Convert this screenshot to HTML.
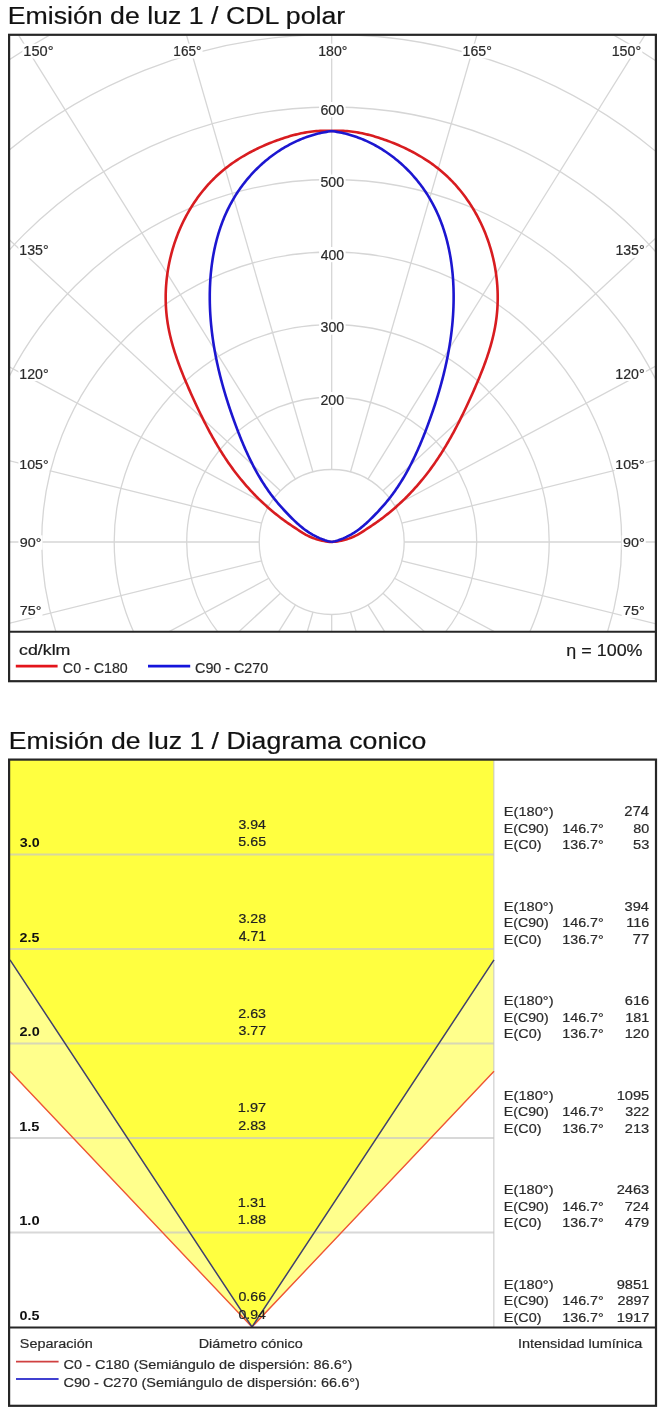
<!DOCTYPE html>
<html><head><meta charset="utf-8"><style>
html,body{margin:0;padding:0;background:#fff;}
svg{display:block;will-change:transform;}
text{font-family:"Liberation Sans",sans-serif;}
</style></head><body>
<svg width="669" height="1422" viewBox="0 0 669 1422">
<clipPath id="pc"><rect x="10" y="35.5" width="645" height="595.5"/></clipPath>
<g clip-path="url(#pc)" fill="none" stroke="#d6d6d6" stroke-width="1.3"><circle cx="331.70" cy="542.00" r="72.50"/><circle cx="331.70" cy="542.00" r="145.00"/><circle cx="331.70" cy="542.00" r="217.50"/><circle cx="331.70" cy="542.00" r="290.00"/><circle cx="331.70" cy="542.00" r="362.50"/><circle cx="331.70" cy="542.00" r="435.00"/><circle cx="331.70" cy="542.00" r="507.50"/><circle cx="331.70" cy="542.00" r="580.00"/><circle cx="331.70" cy="542.00" r="652.50"/><line x1="404.20" y1="542.00" x2="1700.20" y2="542.00"/><line x1="401.73" y1="560.76" x2="1653.57" y2="871.35"/><line x1="394.49" y1="578.25" x2="1516.86" y2="1178.25"/><line x1="382.97" y1="593.27" x2="1299.38" y2="1441.79"/><line x1="367.95" y1="604.79" x2="1015.95" y2="1644.02"/><line x1="350.46" y1="612.03" x2="685.89" y2="1771.14"/><line x1="331.70" y1="614.50" x2="331.70" y2="1814.50"/><line x1="312.94" y1="612.03" x2="-22.49" y2="1771.14"/><line x1="295.45" y1="604.79" x2="-352.55" y2="1644.02"/><line x1="280.43" y1="593.27" x2="-635.98" y2="1441.79"/><line x1="268.91" y1="578.25" x2="-853.46" y2="1178.25"/><line x1="261.67" y1="560.76" x2="-990.17" y2="871.35"/><line x1="259.20" y1="542.00" x2="-1036.80" y2="542.00"/><line x1="261.67" y1="523.24" x2="-990.17" y2="212.65"/><line x1="268.91" y1="505.75" x2="-853.46" y2="-94.25"/><line x1="280.43" y1="490.73" x2="-635.98" y2="-357.79"/><line x1="295.45" y1="479.21" x2="-352.55" y2="-560.02"/><line x1="312.94" y1="471.97" x2="-22.49" y2="-687.14"/><line x1="331.70" y1="469.50" x2="331.70" y2="-730.50"/><line x1="350.46" y1="471.97" x2="685.89" y2="-687.14"/><line x1="367.95" y1="479.21" x2="1015.95" y2="-560.02"/><line x1="382.97" y1="490.73" x2="1299.38" y2="-357.79"/><line x1="394.49" y1="505.75" x2="1516.86" y2="-94.25"/><line x1="401.73" y1="523.24" x2="1653.57" y2="212.65"/></g>
<g fill="#fff"><rect x="22.4" y="43.7" width="32.2" height="14.8"/><rect x="172.4" y="43.7" width="30.2" height="14.8"/><rect x="317.4" y="43.7" width="31.2" height="14.8"/><rect x="461.7" y="43.7" width="31.3" height="14.8"/><rect x="610.8" y="43.7" width="31.5" height="14.8"/><rect x="18.4" y="242.4" width="31.3" height="15.4"/><rect x="614.5" y="242.4" width="31.3" height="15.4"/><rect x="18.4" y="366.4" width="31.3" height="14.6"/><rect x="614.5" y="366.4" width="31.3" height="14.6"/><rect x="18.4" y="456.8" width="31.3" height="14.5"/><rect x="614.5" y="456.8" width="31.3" height="14.5"/><rect x="18.4" y="535.3" width="24.1" height="14.5"/><rect x="621.7" y="535.3" width="24.1" height="14.5"/><rect x="18.4" y="603.5" width="24.1" height="14.3"/><rect x="621.7" y="603.5" width="24.1" height="14.3"/><rect x="319.1" y="102.0" width="26.5" height="15.2"/><rect x="319.1" y="174.5" width="26.5" height="15.2"/><rect x="319.1" y="247.0" width="26.5" height="15.2"/><rect x="319.1" y="319.5" width="26.5" height="15.2"/><rect x="319.1" y="392.0" width="26.5" height="15.2"/></g>
<path d="M331.70 542.00 L329.75 541.83 L327.81 541.62 L325.89 541.35 L323.98 541.03 L322.08 540.66 L320.21 540.23 L318.35 539.75 L316.51 539.22 L314.70 538.63 L312.90 537.98 L311.14 537.27 L309.39 536.51 L307.68 535.68 L305.99 534.80 L304.34 533.85 L302.70 532.87 L301.08 531.85 L299.47 530.81 L297.86 529.76 L296.25 528.71 L294.64 527.65 L293.04 526.59 L291.44 525.52 L289.84 524.44 L288.26 523.35 L286.68 522.24 L285.11 521.12 L283.56 519.99 L282.01 518.85 L280.47 517.69 L278.95 516.52 L277.43 515.33 L275.92 514.13 L274.43 512.92 L272.94 511.70 L271.47 510.47 L270.01 509.22 L268.55 507.96 L267.11 506.69 L265.68 505.40 L264.26 504.11 L262.85 502.80 L261.45 501.48 L260.06 500.15 L258.68 498.81 L257.32 497.46 L255.96 496.10 L254.62 494.73 L253.29 493.34 L251.97 491.95 L250.66 490.55 L249.36 489.13 L248.07 487.71 L246.80 486.28 L245.53 484.83 L244.28 483.38 L243.04 481.92 L241.81 480.45 L240.59 478.97 L239.39 477.48 L238.19 475.98 L237.01 474.48 L235.84 472.96 L234.68 471.44 L233.54 469.91 L232.41 468.37 L231.28 466.82 L230.17 465.27 L229.08 463.71 L227.99 462.14 L226.91 460.56 L225.85 458.98 L224.79 457.39 L223.75 455.79 L222.71 454.18 L221.69 452.57 L220.68 450.95 L219.67 449.33 L218.68 447.70 L217.69 446.06 L216.72 444.42 L215.75 442.77 L214.79 441.12 L213.84 439.45 L212.90 437.79 L211.96 436.12 L211.04 434.44 L210.12 432.76 L209.21 431.07 L208.31 429.38 L207.41 427.68 L206.53 425.98 L205.64 424.27 L204.77 422.56 L203.90 420.85 L203.04 419.13 L202.18 417.41 L201.33 415.68 L200.49 413.95 L199.65 412.21 L198.81 410.48 L197.98 408.73 L197.16 406.99 L196.34 405.24 L195.53 403.49 L194.71 401.74 L193.91 399.98 L193.11 398.22 L192.31 396.46 L191.51 394.69 L190.72 392.92 L189.93 391.15 L189.15 389.38 L188.37 387.61 L187.59 385.83 L186.83 384.05 L186.06 382.27 L185.31 380.49 L184.56 378.70 L183.82 376.91 L183.09 375.12 L182.36 373.32 L181.65 371.52 L180.94 369.72 L180.25 367.92 L179.56 366.11 L178.89 364.30 L178.22 362.49 L177.57 360.68 L176.93 358.86 L176.31 357.04 L175.70 355.21 L175.10 353.38 L174.51 351.55 L173.94 349.72 L173.39 347.88 L172.85 346.04 L172.32 344.20 L171.82 342.35 L171.33 340.50 L170.85 338.64 L170.40 336.79 L169.96 334.93 L169.55 333.06 L169.15 331.19 L168.77 329.32 L168.41 327.44 L168.08 325.56 L167.76 323.68 L167.47 321.79 L167.20 319.90 L166.95 318.01 L166.72 316.11 L166.52 314.21 L166.34 312.30 L166.18 310.40 L166.04 308.49 L165.93 306.57 L165.83 304.66 L165.76 302.74 L165.72 300.83 L165.69 298.91 L165.69 296.99 L165.70 295.07 L165.74 293.15 L165.80 291.23 L165.89 289.31 L165.99 287.39 L166.12 285.47 L166.27 283.55 L166.44 281.63 L166.63 279.71 L166.84 277.80 L167.08 275.89 L167.33 273.98 L167.61 272.07 L167.90 270.17 L168.22 268.27 L168.56 266.37 L168.92 264.47 L169.30 262.58 L169.70 260.70 L170.13 258.82 L170.57 256.94 L171.03 255.07 L171.52 253.20 L172.02 251.34 L172.55 249.48 L173.09 247.64 L173.66 245.79 L174.25 243.96 L174.85 242.13 L175.48 240.30 L176.13 238.49 L176.79 236.68 L177.48 234.88 L178.18 233.09 L178.91 231.31 L179.66 229.53 L180.42 227.77 L181.21 226.01 L182.01 224.27 L182.84 222.53 L183.68 220.80 L184.54 219.09 L185.43 217.38 L186.33 215.69 L187.25 214.00 L188.19 212.33 L189.15 210.67 L190.12 209.02 L191.12 207.38 L192.14 205.76 L193.17 204.15 L194.22 202.55 L195.30 200.97 L196.39 199.39 L197.50 197.84 L198.62 196.29 L199.77 194.76 L200.93 193.25 L202.12 191.75 L203.32 190.27 L204.54 188.80 L205.77 187.34 L207.03 185.91 L208.30 184.48 L209.59 183.08 L210.90 181.69 L212.23 180.32 L213.57 178.97 L214.94 177.63 L216.32 176.31 L217.71 175.01 L219.13 173.73 L220.56 172.47 L222.01 171.22 L223.48 170.00 L224.96 168.79 L226.46 167.61 L227.98 166.44 L229.51 165.29 L231.06 164.16 L232.62 163.04 L234.20 161.95 L235.79 160.87 L237.40 159.82 L239.02 158.78 L240.65 157.76 L242.29 156.75 L243.95 155.77 L245.62 154.80 L247.30 153.85 L248.99 152.92 L250.69 152.01 L252.40 151.11 L254.12 150.23 L255.85 149.36 L257.59 148.52 L259.34 147.69 L261.10 146.88 L262.87 146.08 L264.64 145.30 L266.42 144.54 L268.20 143.79 L270.00 143.06 L271.79 142.35 L273.60 141.65 L275.41 140.97 L277.22 140.31 L279.04 139.66 L280.86 139.02 L282.69 138.41 L284.52 137.81 L286.35 137.22 L288.19 136.66 L290.03 136.12 L291.88 135.60 L293.73 135.10 L295.59 134.62 L297.45 134.17 L299.31 133.74 L301.18 133.34 L303.05 132.96 L304.93 132.61 L306.81 132.29 L308.70 131.99 L310.59 131.73 L312.49 131.49 L314.39 131.29 L316.29 131.12 L318.20 130.98 L320.11 130.87 L322.03 130.80 L323.96 130.77 L325.89 130.77 L327.82 130.81 L329.76 130.88 L331.70 131.00 L333.64 130.88 L335.58 130.81 L337.51 130.77 L339.44 130.77 L341.37 130.80 L343.29 130.87 L345.20 130.98 L347.11 131.12 L349.01 131.29 L350.91 131.49 L352.81 131.73 L354.70 131.99 L356.59 132.29 L358.47 132.61 L360.35 132.96 L362.22 133.34 L364.09 133.74 L365.95 134.17 L367.81 134.62 L369.67 135.10 L371.52 135.60 L373.37 136.12 L375.21 136.66 L377.05 137.22 L378.88 137.81 L380.71 138.41 L382.54 139.02 L384.36 139.66 L386.18 140.31 L387.99 140.97 L389.80 141.65 L391.61 142.35 L393.40 143.06 L395.20 143.79 L396.98 144.54 L398.76 145.30 L400.53 146.08 L402.30 146.88 L404.06 147.69 L405.81 148.52 L407.55 149.36 L409.28 150.23 L411.00 151.11 L412.71 152.01 L414.41 152.92 L416.10 153.85 L417.78 154.80 L419.45 155.77 L421.11 156.75 L422.75 157.76 L424.38 158.78 L426.00 159.82 L427.61 160.87 L429.20 161.95 L430.78 163.04 L432.34 164.16 L433.89 165.29 L435.42 166.44 L436.94 167.61 L438.44 168.79 L439.92 170.00 L441.39 171.22 L442.84 172.47 L444.27 173.73 L445.69 175.01 L447.08 176.31 L448.46 177.63 L449.83 178.97 L451.17 180.32 L452.50 181.69 L453.81 183.08 L455.10 184.48 L456.37 185.91 L457.63 187.34 L458.86 188.80 L460.08 190.27 L461.28 191.75 L462.47 193.25 L463.63 194.76 L464.78 196.29 L465.90 197.84 L467.01 199.39 L468.10 200.97 L469.18 202.55 L470.23 204.15 L471.26 205.76 L472.28 207.38 L473.28 209.02 L474.25 210.67 L475.21 212.33 L476.15 214.00 L477.07 215.69 L477.97 217.38 L478.86 219.09 L479.72 220.80 L480.56 222.53 L481.39 224.27 L482.19 226.01 L482.98 227.77 L483.74 229.53 L484.49 231.31 L485.22 233.09 L485.92 234.88 L486.61 236.68 L487.27 238.49 L487.92 240.30 L488.55 242.13 L489.15 243.96 L489.74 245.79 L490.31 247.64 L490.85 249.48 L491.38 251.34 L491.88 253.20 L492.37 255.07 L492.83 256.94 L493.27 258.82 L493.70 260.70 L494.10 262.58 L494.48 264.47 L494.84 266.37 L495.18 268.27 L495.50 270.17 L495.79 272.07 L496.07 273.98 L496.32 275.89 L496.56 277.80 L496.77 279.71 L496.96 281.63 L497.13 283.55 L497.28 285.47 L497.41 287.39 L497.51 289.31 L497.60 291.23 L497.66 293.15 L497.70 295.07 L497.71 296.99 L497.71 298.91 L497.68 300.83 L497.64 302.74 L497.57 304.66 L497.47 306.57 L497.36 308.49 L497.22 310.40 L497.06 312.30 L496.88 314.21 L496.68 316.11 L496.45 318.01 L496.20 319.90 L495.93 321.79 L495.64 323.68 L495.32 325.56 L494.99 327.44 L494.63 329.32 L494.25 331.19 L493.85 333.06 L493.44 334.93 L493.00 336.79 L492.55 338.64 L492.07 340.50 L491.58 342.35 L491.08 344.20 L490.55 346.04 L490.01 347.88 L489.46 349.72 L488.89 351.55 L488.30 353.38 L487.70 355.21 L487.09 357.04 L486.47 358.86 L485.83 360.68 L485.18 362.49 L484.51 364.30 L483.84 366.11 L483.15 367.92 L482.46 369.72 L481.75 371.52 L481.04 373.32 L480.31 375.12 L479.58 376.91 L478.84 378.70 L478.09 380.49 L477.34 382.27 L476.57 384.05 L475.81 385.83 L475.03 387.61 L474.25 389.38 L473.47 391.15 L472.68 392.92 L471.89 394.69 L471.09 396.46 L470.29 398.22 L469.49 399.98 L468.69 401.74 L467.87 403.49 L467.06 405.24 L466.24 406.99 L465.42 408.73 L464.59 410.48 L463.75 412.21 L462.91 413.95 L462.07 415.68 L461.22 417.41 L460.36 419.13 L459.50 420.85 L458.63 422.56 L457.76 424.27 L456.87 425.98 L455.99 427.68 L455.09 429.38 L454.19 431.07 L453.28 432.76 L452.36 434.44 L451.44 436.12 L450.50 437.79 L449.56 439.45 L448.61 441.12 L447.65 442.77 L446.68 444.42 L445.71 446.06 L444.72 447.70 L443.73 449.33 L442.72 450.95 L441.71 452.57 L440.69 454.18 L439.65 455.79 L438.61 457.39 L437.55 458.98 L436.49 460.56 L435.41 462.14 L434.32 463.71 L433.23 465.27 L432.12 466.82 L430.99 468.37 L429.86 469.91 L428.72 471.44 L427.56 472.96 L426.39 474.48 L425.21 475.98 L424.01 477.48 L422.81 478.97 L421.59 480.45 L420.36 481.92 L419.12 483.38 L417.87 484.83 L416.60 486.28 L415.33 487.71 L414.04 489.13 L412.74 490.55 L411.43 491.95 L410.11 493.34 L408.78 494.73 L407.44 496.10 L406.08 497.46 L404.72 498.81 L403.34 500.15 L401.95 501.48 L400.55 502.80 L399.14 504.11 L397.72 505.40 L396.29 506.69 L394.85 507.96 L393.39 509.22 L391.93 510.47 L390.46 511.70 L388.97 512.92 L387.48 514.13 L385.97 515.33 L384.45 516.52 L382.93 517.69 L381.39 518.85 L379.84 519.99 L378.29 521.12 L376.72 522.24 L375.14 523.35 L373.56 524.44 L371.96 525.52 L370.36 526.59 L368.76 527.65 L367.15 528.71 L365.54 529.76 L363.93 530.81 L362.32 531.85 L360.70 532.87 L359.06 533.85 L357.41 534.80 L355.72 535.68 L354.01 536.51 L352.26 537.27 L350.50 537.98 L348.70 538.63 L346.89 539.22 L345.05 539.75 L343.19 540.23 L341.32 540.66 L339.42 541.03 L337.51 541.35 L335.59 541.62 L333.65 541.83 L331.70 542.00" fill="none" stroke="#d81c20" stroke-width="2.6" stroke-linejoin="round"/>
<path d="M331.70 542.00 L329.98 541.60 L328.28 541.16 L326.61 540.68 L324.95 540.16 L323.31 539.60 L321.70 539.00 L320.10 538.36 L318.53 537.68 L316.97 536.96 L315.44 536.20 L313.93 535.41 L312.44 534.59 L310.97 533.73 L309.51 532.83 L308.08 531.90 L306.68 530.94 L305.29 529.95 L303.92 528.93 L302.57 527.88 L301.24 526.80 L299.92 525.70 L298.62 524.58 L297.34 523.44 L296.07 522.28 L294.81 521.10 L293.56 519.91 L292.33 518.70 L291.11 517.48 L289.89 516.26 L288.69 515.02 L287.49 513.77 L286.30 512.52 L285.12 511.26 L283.95 510.00 L282.78 508.73 L281.63 507.45 L280.49 506.17 L279.36 504.88 L278.24 503.57 L277.13 502.26 L276.04 500.94 L274.96 499.61 L273.89 498.27 L272.84 496.91 L271.81 495.55 L270.78 494.18 L269.77 492.80 L268.77 491.41 L267.79 490.01 L266.82 488.60 L265.86 487.18 L264.91 485.75 L263.98 484.32 L263.06 482.88 L262.14 481.43 L261.25 479.97 L260.36 478.50 L259.48 477.03 L258.62 475.55 L257.76 474.06 L256.92 472.56 L256.09 471.06 L255.26 469.55 L254.45 468.04 L253.65 466.52 L252.86 464.99 L252.07 463.46 L251.30 461.92 L250.54 460.37 L249.78 458.82 L249.04 457.27 L248.30 455.71 L247.57 454.15 L246.85 452.58 L246.14 451.00 L245.44 449.43 L244.74 447.85 L244.05 446.26 L243.37 444.67 L242.70 443.08 L242.03 441.48 L241.37 439.88 L240.72 438.28 L240.07 436.68 L239.43 435.07 L238.80 433.46 L238.17 431.85 L237.55 430.24 L236.94 428.62 L236.33 427.00 L235.72 425.38 L235.13 423.76 L234.53 422.14 L233.94 420.52 L233.36 418.90 L232.78 417.27 L232.21 415.64 L231.64 414.02 L231.08 412.39 L230.52 410.76 L229.97 409.13 L229.42 407.50 L228.88 405.86 L228.35 404.23 L227.82 402.59 L227.30 400.95 L226.78 399.32 L226.27 397.68 L225.77 396.03 L225.27 394.39 L224.78 392.75 L224.29 391.10 L223.82 389.46 L223.34 387.81 L222.88 386.16 L222.42 384.51 L221.97 382.85 L221.53 381.20 L221.09 379.55 L220.66 377.89 L220.23 376.23 L219.82 374.57 L219.41 372.91 L219.01 371.25 L218.61 369.58 L218.23 367.92 L217.85 366.25 L217.48 364.58 L217.11 362.91 L216.76 361.24 L216.41 359.57 L216.07 357.89 L215.74 356.22 L215.41 354.54 L215.10 352.86 L214.79 351.18 L214.49 349.50 L214.20 347.81 L213.92 346.13 L213.65 344.44 L213.38 342.75 L213.12 341.06 L212.88 339.37 L212.64 337.67 L212.41 335.98 L212.19 334.28 L211.98 332.58 L211.77 330.88 L211.58 329.17 L211.40 327.47 L211.22 325.76 L211.06 324.05 L210.90 322.34 L210.75 320.63 L210.62 318.92 L210.49 317.20 L210.38 315.48 L210.27 313.77 L210.17 312.04 L210.08 310.32 L210.01 308.60 L209.94 306.87 L209.89 305.14 L209.84 303.41 L209.81 301.68 L209.78 299.95 L209.77 298.22 L209.77 296.49 L209.77 294.75 L209.79 293.02 L209.83 291.29 L209.87 289.55 L209.92 287.82 L209.99 286.09 L210.07 284.35 L210.16 282.62 L210.26 280.89 L210.37 279.16 L210.50 277.43 L210.64 275.70 L210.79 273.98 L210.95 272.25 L211.13 270.53 L211.32 268.81 L211.52 267.09 L211.74 265.38 L211.97 263.66 L212.21 261.95 L212.47 260.24 L212.73 258.54 L213.02 256.84 L213.31 255.14 L213.62 253.44 L213.95 251.75 L214.29 250.07 L214.64 248.38 L215.01 246.70 L215.39 245.03 L215.79 243.36 L216.20 241.69 L216.63 240.03 L217.07 238.37 L217.52 236.72 L218.00 235.08 L218.48 233.43 L218.99 231.80 L219.50 230.17 L220.04 228.55 L220.59 226.93 L221.15 225.32 L221.74 223.71 L222.33 222.12 L222.95 220.53 L223.58 218.94 L224.23 217.36 L224.89 215.79 L225.57 214.23 L226.27 212.68 L226.98 211.13 L227.71 209.59 L228.46 208.06 L229.23 206.54 L230.01 205.02 L230.81 203.52 L231.63 202.02 L232.47 200.53 L233.32 199.05 L234.20 197.58 L235.09 196.12 L236.00 194.67 L236.92 193.23 L237.87 191.80 L238.83 190.38 L239.81 188.97 L240.80 187.57 L241.81 186.18 L242.84 184.80 L243.89 183.44 L244.95 182.08 L246.02 180.74 L247.12 179.41 L248.22 178.09 L249.35 176.79 L250.49 175.50 L251.64 174.22 L252.81 172.96 L254.00 171.70 L255.19 170.47 L256.41 169.24 L257.64 168.03 L258.88 166.84 L260.13 165.66 L261.40 164.49 L262.69 163.34 L263.98 162.21 L265.29 161.09 L266.62 159.99 L267.95 158.90 L269.30 157.83 L270.66 156.78 L272.04 155.74 L273.42 154.72 L274.82 153.72 L276.23 152.73 L277.65 151.77 L279.08 150.82 L280.53 149.89 L281.98 148.97 L283.45 148.08 L284.93 147.21 L286.42 146.35 L287.92 145.51 L289.42 144.70 L290.94 143.90 L292.47 143.12 L294.01 142.37 L295.56 141.63 L297.12 140.92 L298.68 140.22 L300.26 139.55 L301.84 138.90 L303.44 138.27 L305.04 137.66 L306.65 137.07 L308.27 136.51 L309.90 135.97 L311.53 135.45 L313.18 134.96 L314.83 134.48 L316.48 134.04 L318.15 133.61 L319.82 133.21 L321.50 132.84 L323.18 132.48 L324.87 132.16 L326.57 131.85 L328.28 131.58 L329.99 131.33 L331.70 131.10 L333.41 131.33 L335.12 131.58 L336.83 131.85 L338.53 132.16 L340.22 132.48 L341.90 132.84 L343.58 133.21 L345.25 133.61 L346.92 134.04 L348.57 134.48 L350.22 134.96 L351.87 135.45 L353.50 135.97 L355.13 136.51 L356.75 137.07 L358.36 137.66 L359.96 138.27 L361.56 138.90 L363.14 139.55 L364.72 140.22 L366.28 140.92 L367.84 141.63 L369.39 142.37 L370.93 143.12 L372.46 143.90 L373.98 144.70 L375.48 145.51 L376.98 146.35 L378.47 147.21 L379.95 148.08 L381.42 148.97 L382.87 149.89 L384.32 150.82 L385.75 151.77 L387.17 152.73 L388.58 153.72 L389.98 154.72 L391.36 155.74 L392.74 156.78 L394.10 157.83 L395.45 158.90 L396.78 159.99 L398.11 161.09 L399.42 162.21 L400.71 163.34 L402.00 164.49 L403.27 165.66 L404.52 166.84 L405.76 168.03 L406.99 169.24 L408.21 170.47 L409.40 171.70 L410.59 172.96 L411.76 174.22 L412.91 175.50 L414.05 176.79 L415.18 178.09 L416.28 179.41 L417.38 180.74 L418.45 182.08 L419.51 183.44 L420.56 184.80 L421.59 186.18 L422.60 187.57 L423.59 188.97 L424.57 190.38 L425.53 191.80 L426.48 193.23 L427.40 194.67 L428.31 196.12 L429.20 197.58 L430.08 199.05 L430.93 200.53 L431.77 202.02 L432.59 203.52 L433.39 205.02 L434.17 206.54 L434.94 208.06 L435.69 209.59 L436.42 211.13 L437.13 212.68 L437.83 214.23 L438.51 215.79 L439.17 217.36 L439.82 218.94 L440.45 220.53 L441.07 222.12 L441.66 223.71 L442.25 225.32 L442.81 226.93 L443.36 228.55 L443.90 230.17 L444.41 231.80 L444.92 233.43 L445.40 235.08 L445.88 236.72 L446.33 238.37 L446.77 240.03 L447.20 241.69 L447.61 243.36 L448.01 245.03 L448.39 246.70 L448.76 248.38 L449.11 250.07 L449.45 251.75 L449.78 253.44 L450.09 255.14 L450.38 256.84 L450.67 258.54 L450.93 260.24 L451.19 261.95 L451.43 263.66 L451.66 265.38 L451.88 267.09 L452.08 268.81 L452.27 270.53 L452.45 272.25 L452.61 273.98 L452.76 275.70 L452.90 277.43 L453.03 279.16 L453.14 280.89 L453.24 282.62 L453.33 284.35 L453.41 286.09 L453.48 287.82 L453.53 289.55 L453.57 291.29 L453.61 293.02 L453.63 294.75 L453.63 296.49 L453.63 298.22 L453.62 299.95 L453.59 301.68 L453.56 303.41 L453.51 305.14 L453.46 306.87 L453.39 308.60 L453.32 310.32 L453.23 312.04 L453.13 313.77 L453.02 315.48 L452.91 317.20 L452.78 318.92 L452.65 320.63 L452.50 322.34 L452.34 324.05 L452.18 325.76 L452.00 327.47 L451.82 329.17 L451.63 330.88 L451.42 332.58 L451.21 334.28 L450.99 335.98 L450.76 337.67 L450.52 339.37 L450.28 341.06 L450.02 342.75 L449.75 344.44 L449.48 346.13 L449.20 347.81 L448.91 349.50 L448.61 351.18 L448.30 352.86 L447.99 354.54 L447.66 356.22 L447.33 357.89 L446.99 359.57 L446.64 361.24 L446.29 362.91 L445.92 364.58 L445.55 366.25 L445.17 367.92 L444.79 369.58 L444.39 371.25 L443.99 372.91 L443.58 374.57 L443.17 376.23 L442.74 377.89 L442.31 379.55 L441.87 381.20 L441.43 382.85 L440.98 384.51 L440.52 386.16 L440.06 387.81 L439.58 389.46 L439.11 391.10 L438.62 392.75 L438.13 394.39 L437.63 396.03 L437.13 397.68 L436.62 399.32 L436.10 400.95 L435.58 402.59 L435.05 404.23 L434.52 405.86 L433.98 407.50 L433.43 409.13 L432.88 410.76 L432.32 412.39 L431.76 414.02 L431.19 415.64 L430.62 417.27 L430.04 418.90 L429.46 420.52 L428.87 422.14 L428.27 423.76 L427.68 425.38 L427.07 427.00 L426.46 428.62 L425.85 430.24 L425.23 431.85 L424.60 433.46 L423.97 435.07 L423.33 436.68 L422.68 438.28 L422.03 439.88 L421.37 441.48 L420.70 443.08 L420.03 444.67 L419.35 446.26 L418.66 447.85 L417.96 449.43 L417.26 451.00 L416.55 452.58 L415.83 454.15 L415.10 455.71 L414.36 457.27 L413.62 458.82 L412.86 460.37 L412.10 461.92 L411.33 463.46 L410.54 464.99 L409.75 466.52 L408.95 468.04 L408.14 469.55 L407.31 471.06 L406.48 472.56 L405.64 474.06 L404.78 475.55 L403.92 477.03 L403.04 478.50 L402.15 479.97 L401.26 481.43 L400.34 482.88 L399.42 484.32 L398.49 485.75 L397.54 487.18 L396.58 488.60 L395.61 490.01 L394.63 491.41 L393.63 492.80 L392.62 494.18 L391.59 495.55 L390.56 496.91 L389.51 498.27 L388.44 499.61 L387.36 500.94 L386.27 502.26 L385.16 503.57 L384.04 504.88 L382.91 506.17 L381.77 507.45 L380.62 508.73 L379.45 510.00 L378.28 511.26 L377.10 512.52 L375.91 513.77 L374.71 515.02 L373.51 516.26 L372.29 517.48 L371.07 518.70 L369.84 519.91 L368.59 521.10 L367.33 522.28 L366.06 523.44 L364.78 524.58 L363.48 525.70 L362.16 526.80 L360.83 527.88 L359.48 528.93 L358.11 529.95 L356.72 530.94 L355.32 531.90 L353.89 532.83 L352.43 533.73 L350.96 534.59 L349.47 535.41 L347.96 536.20 L346.43 536.96 L344.87 537.68 L343.30 538.36 L341.70 539.00 L340.09 539.60 L338.45 540.16 L336.79 540.68 L335.12 541.16 L333.42 541.60 L331.70 542.00" fill="none" stroke="#1c16d0" stroke-width="2.6" stroke-linejoin="round"/>
<rect x="9.1" y="34.8" width="646.8" height="646.4" fill="none" stroke="#262626" stroke-width="2.2"/>
<line x1="9" y1="631.8" x2="657" y2="631.8" stroke="#262626" stroke-width="2"/>
<line x1="15.8" y1="666.2" x2="57.6" y2="666.2" stroke="#e3141b" stroke-width="2.8"/>
<line x1="148" y1="666.2" x2="190.2" y2="666.2" stroke="#1414dc" stroke-width="2.8"/>
<rect x="10.0" y="760.0" width="484.0" height="567.0" fill="#ffff40"/>
<polygon points="10.0,1071.3 252.0,1327.0 494.0,1071.3 494.0,1327.0 10.0,1327.0" fill="#fff"/>
<polygon points="10.0,959.9 252.0,1327.0 10.0,1071.3" fill="#ffff8c"/>
<polygon points="494.0,959.9 252.0,1327.0 494.0,1071.3" fill="#ffff8c"/>
<line x1="10.0" y1="854.5" x2="494.0" y2="854.5" stroke="#c8c8c8" stroke-opacity="0.7" stroke-width="2"/>
<line x1="10.0" y1="949.0" x2="494.0" y2="949.0" stroke="#c8c8c8" stroke-opacity="0.7" stroke-width="2"/>
<line x1="10.0" y1="1043.5" x2="494.0" y2="1043.5" stroke="#c8c8c8" stroke-opacity="0.7" stroke-width="2"/>
<line x1="10.0" y1="1138.0" x2="494.0" y2="1138.0" stroke="#c8c8c8" stroke-opacity="0.7" stroke-width="2"/>
<line x1="10.0" y1="1232.5" x2="494.0" y2="1232.5" stroke="#c8c8c8" stroke-opacity="0.7" stroke-width="2"/>
<line x1="493.8" y1="760.0" x2="493.8" y2="1327.0" stroke="#c8c8c8" stroke-opacity="0.7" stroke-width="1.5"/>
<polyline points="10.0,1071.3 252.0,1327.0 494.0,1071.3" fill="none" stroke="#ee5535" stroke-width="1.4"/>
<polyline points="10.0,959.9 252.0,1327.0 494.0,959.9" fill="none" stroke="#40406e" stroke-width="1.5"/>
<rect x="9.1" y="759.6" width="646.9" height="646.2" fill="none" stroke="#262626" stroke-width="2.2"/>
<line x1="9" y1="1327.4" x2="657" y2="1327.4" stroke="#262626" stroke-width="2"/>
<line x1="16" y1="1361.7" x2="58.6" y2="1361.7" stroke="#d04040" stroke-width="1.8"/>
<line x1="16" y1="1379" x2="58.6" y2="1379" stroke="#4040d0" stroke-width="1.8"/>
<text x="7.71" y="24.20" font-size="24.06" fill="#111" stroke="#111" stroke-width="0.20" textLength="337.50" lengthAdjust="spacingAndGlyphs">Emisión de luz 1 / CDL polar</text>
<text x="8.81" y="748.80" font-size="23.11" fill="#111" stroke="#111" stroke-width="0.20" textLength="417.50" lengthAdjust="spacingAndGlyphs">Emisión de luz 1 / Diagrama conico</text>
<text x="23.25" y="56.00" font-size="14.00" fill="#2a2a2a" stroke="#2a2a2a" stroke-width="0.20" textLength="30.24" lengthAdjust="spacingAndGlyphs">150°</text>
<text x="173.33" y="56.00" font-size="14.00" fill="#2a2a2a" stroke="#2a2a2a" stroke-width="0.20" textLength="28.10" lengthAdjust="spacingAndGlyphs">165°</text>
<text x="318.29" y="56.00" font-size="14.00" fill="#2a2a2a" stroke="#2a2a2a" stroke-width="0.20" textLength="29.17" lengthAdjust="spacingAndGlyphs">180°</text>
<text x="462.59" y="56.00" font-size="14.00" fill="#2a2a2a" stroke="#2a2a2a" stroke-width="0.20" textLength="29.28" lengthAdjust="spacingAndGlyphs">165°</text>
<text x="611.68" y="56.00" font-size="14.00" fill="#2a2a2a" stroke="#2a2a2a" stroke-width="0.20" textLength="29.49" lengthAdjust="spacingAndGlyphs">150°</text>
<text x="19.29" y="255.30" font-size="14.86" fill="#2a2a2a" stroke="#2a2a2a" stroke-width="0.20" textLength="29.28" lengthAdjust="spacingAndGlyphs">135°</text>
<text x="615.39" y="255.30" font-size="14.86" fill="#2a2a2a" stroke="#2a2a2a" stroke-width="0.20" textLength="29.28" lengthAdjust="spacingAndGlyphs">135°</text>
<text x="19.29" y="378.50" font-size="13.71" fill="#2a2a2a" stroke="#2a2a2a" stroke-width="0.20" textLength="29.28" lengthAdjust="spacingAndGlyphs">120°</text>
<text x="615.39" y="378.50" font-size="13.71" fill="#2a2a2a" stroke="#2a2a2a" stroke-width="0.20" textLength="29.28" lengthAdjust="spacingAndGlyphs">120°</text>
<text x="19.29" y="468.80" font-size="13.57" fill="#2a2a2a" stroke="#2a2a2a" stroke-width="0.20" textLength="29.28" lengthAdjust="spacingAndGlyphs">105°</text>
<text x="615.39" y="468.80" font-size="13.57" fill="#2a2a2a" stroke="#2a2a2a" stroke-width="0.20" textLength="29.28" lengthAdjust="spacingAndGlyphs">105°</text>
<text x="19.68" y="547.30" font-size="13.57" fill="#2a2a2a" stroke="#2a2a2a" stroke-width="0.20" textLength="21.71" lengthAdjust="spacingAndGlyphs">90°</text>
<text x="622.98" y="547.30" font-size="13.57" fill="#2a2a2a" stroke="#2a2a2a" stroke-width="0.20" textLength="21.71" lengthAdjust="spacingAndGlyphs">90°</text>
<text x="19.68" y="615.30" font-size="13.29" fill="#2a2a2a" stroke="#2a2a2a" stroke-width="0.20" textLength="21.71" lengthAdjust="spacingAndGlyphs">75°</text>
<text x="622.98" y="615.30" font-size="13.29" fill="#2a2a2a" stroke="#2a2a2a" stroke-width="0.20" textLength="21.71" lengthAdjust="spacingAndGlyphs">75°</text>
<text x="320.39" y="114.70" font-size="14.57" fill="#2a2a2a" stroke="#2a2a2a" stroke-width="0.20" textLength="23.78" lengthAdjust="spacingAndGlyphs">600</text>
<text x="320.49" y="187.20" font-size="14.57" fill="#2a2a2a" stroke="#2a2a2a" stroke-width="0.20" textLength="23.67" lengthAdjust="spacingAndGlyphs">500</text>
<text x="320.80" y="259.70" font-size="14.57" fill="#2a2a2a" stroke="#2a2a2a" stroke-width="0.20" textLength="23.36" lengthAdjust="spacingAndGlyphs">400</text>
<text x="320.60" y="332.20" font-size="14.57" fill="#2a2a2a" stroke="#2a2a2a" stroke-width="0.20" textLength="23.57" lengthAdjust="spacingAndGlyphs">300</text>
<text x="320.39" y="404.70" font-size="14.57" fill="#2a2a2a" stroke="#2a2a2a" stroke-width="0.20" textLength="23.78" lengthAdjust="spacingAndGlyphs">200</text>
<text x="19.04" y="655.40" font-size="14.00" fill="#1a1a1a" stroke="#1a1a1a" stroke-width="0.20" textLength="51.37" lengthAdjust="spacingAndGlyphs">cd/klm</text>
<text x="62.89" y="673.10" font-size="14.00" fill="#2a2a2a" stroke="#2a2a2a" stroke-width="0.20" textLength="64.83" lengthAdjust="spacingAndGlyphs">C0 - C180</text>
<text x="195.09" y="673.10" font-size="14.00" fill="#2a2a2a" stroke="#2a2a2a" stroke-width="0.20" textLength="73.12" lengthAdjust="spacingAndGlyphs">C90 - C270</text>
<text x="566.38" y="655.50" font-size="17.14" fill="#1a1a1a" stroke="#1a1a1a" stroke-width="0.20" textLength="76.12" lengthAdjust="spacingAndGlyphs">η = 100%</text>
<text x="238.50" y="828.60" font-size="13.43" fill="#222" stroke="#222" stroke-width="0.20" textLength="27.35" lengthAdjust="spacingAndGlyphs">3.94</text>
<text x="238.39" y="846.40" font-size="13.43" fill="#222" stroke="#222" stroke-width="0.20" textLength="27.67" lengthAdjust="spacingAndGlyphs">5.65</text>
<text x="19.79" y="847.40" font-size="13.29" font-weight="bold" fill="#111" stroke="#111" stroke-width="0.00" textLength="19.88" lengthAdjust="spacingAndGlyphs">3.0</text>
<text x="503.85" y="816.30" font-size="13.17" fill="#2a2a2a" stroke="#2a2a2a" stroke-width="0.20" textLength="49.71" lengthAdjust="spacingAndGlyphs">E(180°)</text>
<text x="503.89" y="832.50" font-size="12.89" fill="#2a2a2a" stroke="#2a2a2a" stroke-width="0.20" textLength="44.76" lengthAdjust="spacingAndGlyphs">E(C90)</text>
<text x="503.87" y="849.20" font-size="13.17" fill="#2a2a2a" stroke="#2a2a2a" stroke-width="0.20" textLength="37.62" lengthAdjust="spacingAndGlyphs">E(C0)</text>
<text x="562.28" y="832.50" font-size="13.29" fill="#2a2a2a" stroke="#2a2a2a" stroke-width="0.20" textLength="41.47" lengthAdjust="spacingAndGlyphs">146.7°</text>
<text x="562.28" y="849.20" font-size="13.57" fill="#2a2a2a" stroke="#2a2a2a" stroke-width="0.20" textLength="41.47" lengthAdjust="spacingAndGlyphs">136.7°</text>
<text x="624.27" y="816.30" font-size="13.71" fill="#2a2a2a" stroke="#2a2a2a" stroke-width="0.20" textLength="24.71" lengthAdjust="spacingAndGlyphs">274</text>
<text x="633.23" y="832.50" font-size="13.29" fill="#2a2a2a" stroke="#2a2a2a" stroke-width="0.20" textLength="15.96" lengthAdjust="spacingAndGlyphs">80</text>
<text x="633.00" y="849.20" font-size="13.57" fill="#2a2a2a" stroke="#2a2a2a" stroke-width="0.20" textLength="16.30" lengthAdjust="spacingAndGlyphs">53</text>
<text x="238.49" y="923.10" font-size="13.43" fill="#222" stroke="#222" stroke-width="0.20" textLength="27.56" lengthAdjust="spacingAndGlyphs">3.28</text>
<text x="238.70" y="940.90" font-size="13.71" fill="#222" stroke="#222" stroke-width="0.20" textLength="27.35" lengthAdjust="spacingAndGlyphs">4.71</text>
<text x="19.59" y="941.90" font-size="13.42" font-weight="bold" fill="#111" stroke="#111" stroke-width="0.00" textLength="19.88" lengthAdjust="spacingAndGlyphs">2.5</text>
<text x="503.85" y="910.80" font-size="13.17" fill="#2a2a2a" stroke="#2a2a2a" stroke-width="0.20" textLength="49.71" lengthAdjust="spacingAndGlyphs">E(180°)</text>
<text x="503.89" y="927.00" font-size="12.89" fill="#2a2a2a" stroke="#2a2a2a" stroke-width="0.20" textLength="44.76" lengthAdjust="spacingAndGlyphs">E(C90)</text>
<text x="503.87" y="943.70" font-size="13.17" fill="#2a2a2a" stroke="#2a2a2a" stroke-width="0.20" textLength="37.62" lengthAdjust="spacingAndGlyphs">E(C0)</text>
<text x="562.28" y="927.00" font-size="13.29" fill="#2a2a2a" stroke="#2a2a2a" stroke-width="0.20" textLength="41.47" lengthAdjust="spacingAndGlyphs">146.7°</text>
<text x="562.28" y="943.70" font-size="13.57" fill="#2a2a2a" stroke="#2a2a2a" stroke-width="0.20" textLength="41.47" lengthAdjust="spacingAndGlyphs">136.7°</text>
<text x="624.52" y="910.80" font-size="13.57" fill="#2a2a2a" stroke="#2a2a2a" stroke-width="0.20" textLength="24.45" lengthAdjust="spacingAndGlyphs">394</text>
<text x="626.36" y="927.00" font-size="13.29" fill="#2a2a2a" stroke="#2a2a2a" stroke-width="0.20" textLength="22.88" lengthAdjust="spacingAndGlyphs">116</text>
<text x="632.51" y="943.70" font-size="14.00" fill="#2a2a2a" stroke="#2a2a2a" stroke-width="0.20" textLength="16.82" lengthAdjust="spacingAndGlyphs">77</text>
<text x="238.29" y="1017.60" font-size="13.43" fill="#222" stroke="#222" stroke-width="0.20" textLength="27.77" lengthAdjust="spacingAndGlyphs">2.63</text>
<text x="238.49" y="1035.40" font-size="13.43" fill="#222" stroke="#222" stroke-width="0.20" textLength="27.67" lengthAdjust="spacingAndGlyphs">3.77</text>
<text x="19.58" y="1036.40" font-size="13.29" font-weight="bold" fill="#111" stroke="#111" stroke-width="0.00" textLength="20.10" lengthAdjust="spacingAndGlyphs">2.0</text>
<text x="503.85" y="1005.30" font-size="13.17" fill="#2a2a2a" stroke="#2a2a2a" stroke-width="0.20" textLength="49.71" lengthAdjust="spacingAndGlyphs">E(180°)</text>
<text x="503.89" y="1021.50" font-size="12.89" fill="#2a2a2a" stroke="#2a2a2a" stroke-width="0.20" textLength="44.76" lengthAdjust="spacingAndGlyphs">E(C90)</text>
<text x="503.87" y="1038.20" font-size="13.17" fill="#2a2a2a" stroke="#2a2a2a" stroke-width="0.20" textLength="37.62" lengthAdjust="spacingAndGlyphs">E(C0)</text>
<text x="562.28" y="1021.50" font-size="13.29" fill="#2a2a2a" stroke="#2a2a2a" stroke-width="0.20" textLength="41.47" lengthAdjust="spacingAndGlyphs">146.7°</text>
<text x="562.28" y="1038.20" font-size="13.57" fill="#2a2a2a" stroke="#2a2a2a" stroke-width="0.20" textLength="41.47" lengthAdjust="spacingAndGlyphs">136.7°</text>
<text x="624.83" y="1005.30" font-size="13.57" fill="#2a2a2a" stroke="#2a2a2a" stroke-width="0.20" textLength="24.45" lengthAdjust="spacingAndGlyphs">616</text>
<text x="625.33" y="1021.50" font-size="13.29" fill="#2a2a2a" stroke="#2a2a2a" stroke-width="0.20" textLength="23.94" lengthAdjust="spacingAndGlyphs">181</text>
<text x="624.73" y="1038.20" font-size="13.57" fill="#2a2a2a" stroke="#2a2a2a" stroke-width="0.20" textLength="24.45" lengthAdjust="spacingAndGlyphs">120</text>
<text x="237.86" y="1112.10" font-size="13.43" fill="#222" stroke="#222" stroke-width="0.20" textLength="28.32" lengthAdjust="spacingAndGlyphs">1.97</text>
<text x="238.29" y="1129.90" font-size="13.43" fill="#222" stroke="#222" stroke-width="0.20" textLength="27.77" lengthAdjust="spacingAndGlyphs">2.83</text>
<text x="19.16" y="1130.90" font-size="13.56" font-weight="bold" fill="#111" stroke="#111" stroke-width="0.00" textLength="20.32" lengthAdjust="spacingAndGlyphs">1.5</text>
<text x="503.85" y="1099.80" font-size="13.17" fill="#2a2a2a" stroke="#2a2a2a" stroke-width="0.20" textLength="49.71" lengthAdjust="spacingAndGlyphs">E(180°)</text>
<text x="503.89" y="1116.00" font-size="12.89" fill="#2a2a2a" stroke="#2a2a2a" stroke-width="0.20" textLength="44.76" lengthAdjust="spacingAndGlyphs">E(C90)</text>
<text x="503.87" y="1132.70" font-size="13.17" fill="#2a2a2a" stroke="#2a2a2a" stroke-width="0.20" textLength="37.62" lengthAdjust="spacingAndGlyphs">E(C0)</text>
<text x="562.28" y="1116.00" font-size="13.29" fill="#2a2a2a" stroke="#2a2a2a" stroke-width="0.20" textLength="41.47" lengthAdjust="spacingAndGlyphs">146.7°</text>
<text x="562.28" y="1132.70" font-size="13.57" fill="#2a2a2a" stroke="#2a2a2a" stroke-width="0.20" textLength="41.47" lengthAdjust="spacingAndGlyphs">136.7°</text>
<text x="616.67" y="1099.80" font-size="13.57" fill="#2a2a2a" stroke="#2a2a2a" stroke-width="0.20" textLength="32.61" lengthAdjust="spacingAndGlyphs">1095</text>
<text x="625.33" y="1116.00" font-size="13.29" fill="#2a2a2a" stroke="#2a2a2a" stroke-width="0.20" textLength="23.94" lengthAdjust="spacingAndGlyphs">322</text>
<text x="624.83" y="1132.70" font-size="13.57" fill="#2a2a2a" stroke="#2a2a2a" stroke-width="0.20" textLength="24.45" lengthAdjust="spacingAndGlyphs">213</text>
<text x="237.86" y="1206.60" font-size="13.43" fill="#222" stroke="#222" stroke-width="0.20" textLength="28.21" lengthAdjust="spacingAndGlyphs">1.31</text>
<text x="237.86" y="1224.40" font-size="13.43" fill="#222" stroke="#222" stroke-width="0.20" textLength="28.21" lengthAdjust="spacingAndGlyphs">1.88</text>
<text x="19.15" y="1225.40" font-size="13.29" font-weight="bold" fill="#111" stroke="#111" stroke-width="0.00" textLength="20.54" lengthAdjust="spacingAndGlyphs">1.0</text>
<text x="503.85" y="1194.30" font-size="13.17" fill="#2a2a2a" stroke="#2a2a2a" stroke-width="0.20" textLength="49.71" lengthAdjust="spacingAndGlyphs">E(180°)</text>
<text x="503.89" y="1210.50" font-size="12.89" fill="#2a2a2a" stroke="#2a2a2a" stroke-width="0.20" textLength="44.76" lengthAdjust="spacingAndGlyphs">E(C90)</text>
<text x="503.87" y="1227.20" font-size="13.17" fill="#2a2a2a" stroke="#2a2a2a" stroke-width="0.20" textLength="37.62" lengthAdjust="spacingAndGlyphs">E(C0)</text>
<text x="562.28" y="1210.50" font-size="13.29" fill="#2a2a2a" stroke="#2a2a2a" stroke-width="0.20" textLength="41.47" lengthAdjust="spacingAndGlyphs">146.7°</text>
<text x="562.28" y="1227.20" font-size="13.57" fill="#2a2a2a" stroke="#2a2a2a" stroke-width="0.20" textLength="41.47" lengthAdjust="spacingAndGlyphs">136.7°</text>
<text x="616.67" y="1194.30" font-size="13.57" fill="#2a2a2a" stroke="#2a2a2a" stroke-width="0.20" textLength="32.61" lengthAdjust="spacingAndGlyphs">2463</text>
<text x="624.78" y="1210.50" font-size="13.42" fill="#2a2a2a" stroke="#2a2a2a" stroke-width="0.20" textLength="24.19" lengthAdjust="spacingAndGlyphs">724</text>
<text x="624.83" y="1227.20" font-size="13.57" fill="#2a2a2a" stroke="#2a2a2a" stroke-width="0.20" textLength="24.45" lengthAdjust="spacingAndGlyphs">479</text>
<text x="238.49" y="1301.10" font-size="13.43" fill="#222" stroke="#222" stroke-width="0.20" textLength="27.56" lengthAdjust="spacingAndGlyphs">0.66</text>
<text x="238.50" y="1318.90" font-size="13.43" fill="#222" stroke="#222" stroke-width="0.20" textLength="27.35" lengthAdjust="spacingAndGlyphs">0.94</text>
<text x="19.48" y="1319.90" font-size="13.29" font-weight="bold" fill="#111" stroke="#111" stroke-width="0.00" textLength="19.99" lengthAdjust="spacingAndGlyphs">0.5</text>
<text x="503.85" y="1288.80" font-size="13.17" fill="#2a2a2a" stroke="#2a2a2a" stroke-width="0.20" textLength="49.71" lengthAdjust="spacingAndGlyphs">E(180°)</text>
<text x="503.89" y="1305.00" font-size="12.89" fill="#2a2a2a" stroke="#2a2a2a" stroke-width="0.20" textLength="44.76" lengthAdjust="spacingAndGlyphs">E(C90)</text>
<text x="503.87" y="1321.70" font-size="13.17" fill="#2a2a2a" stroke="#2a2a2a" stroke-width="0.20" textLength="37.62" lengthAdjust="spacingAndGlyphs">E(C0)</text>
<text x="562.28" y="1305.00" font-size="13.29" fill="#2a2a2a" stroke="#2a2a2a" stroke-width="0.20" textLength="41.47" lengthAdjust="spacingAndGlyphs">146.7°</text>
<text x="562.28" y="1321.70" font-size="13.57" fill="#2a2a2a" stroke="#2a2a2a" stroke-width="0.20" textLength="41.47" lengthAdjust="spacingAndGlyphs">136.7°</text>
<text x="616.67" y="1288.80" font-size="13.57" fill="#2a2a2a" stroke="#2a2a2a" stroke-width="0.20" textLength="32.61" lengthAdjust="spacingAndGlyphs">9851</text>
<text x="617.44" y="1305.00" font-size="13.29" fill="#2a2a2a" stroke="#2a2a2a" stroke-width="0.20" textLength="31.92" lengthAdjust="spacingAndGlyphs">2897</text>
<text x="616.77" y="1321.70" font-size="13.57" fill="#2a2a2a" stroke="#2a2a2a" stroke-width="0.20" textLength="32.61" lengthAdjust="spacingAndGlyphs">1917</text>
<text x="19.88" y="1347.80" font-size="12.50" fill="#2a2a2a" stroke="#2a2a2a" stroke-width="0.20" textLength="72.87" lengthAdjust="spacingAndGlyphs">Separación</text>
<text x="198.67" y="1347.80" font-size="12.91" fill="#2a2a2a" stroke="#2a2a2a" stroke-width="0.20" textLength="104.10" lengthAdjust="spacingAndGlyphs">Diámetro cónico</text>
<text x="517.96" y="1347.80" font-size="13.31" fill="#2a2a2a" stroke="#2a2a2a" stroke-width="0.20" textLength="124.37" lengthAdjust="spacingAndGlyphs">Intensidad lumínica</text>
<text x="63.47" y="1369.00" font-size="12.91" fill="#2a2a2a" stroke="#2a2a2a" stroke-width="0.20" textLength="288.91" lengthAdjust="spacingAndGlyphs">C0 - C180 (Semiángulo de dispersión: 86.6°)</text>
<text x="63.48" y="1386.60" font-size="13.05" fill="#2a2a2a" stroke="#2a2a2a" stroke-width="0.20" textLength="296.39" lengthAdjust="spacingAndGlyphs">C90 - C270 (Semiángulo de dispersión: 66.6°)</text>
</svg>
</body></html>
